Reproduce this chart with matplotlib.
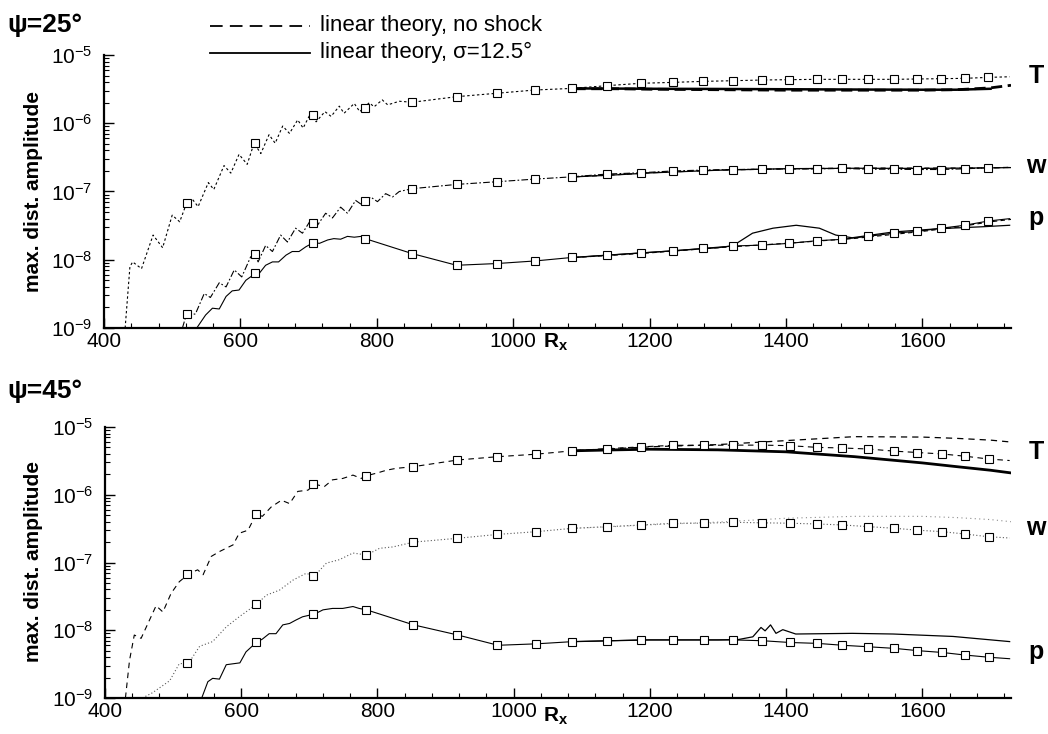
import matplotlib
matplotlib.use("Agg")
import matplotlib.pyplot as plt
from matplotlib.ticker import MultipleLocator, FixedLocator, LogLocator, NullFormatter
from matplotlib.lines import Line2D

plt.rcParams['font.family'] = ['Liberation Sans', 'DejaVu Sans']
plt.rcParams['mathtext.fontset'] = 'custom'
plt.rcParams['mathtext.rm'] = 'Liberation Sans'
plt.rcParams['mathtext.bf'] = 'Liberation Sans:bold'
plt.rcParams['mathtext.it'] = 'Liberation Sans:italic'

# ---------------- data ----------------
# DNS stations (square markers)
stations = [521, 621, 706, 783, 852, 917, 976, 1032, 1086, 1137, 1187, 1234,
            1279, 1322, 1365, 1405, 1445, 1482, 1520, 1558, 1592, 1628, 1662, 1697]

# linear theory abscissa
lin_x = [1090, 1150, 1200, 1300, 1400, 1500, 1600, 1650, 1700, 1730]

# ---- psi = 25 deg ----
t25_x = [431, 438, 442, 455, 472, 486, 500, 511, 521, 530, 538, 553, 561, 576, 586,
         598, 610, 620, 630, 642, 651, 662, 672, 684, 692, 703, 711, 724, 733, 745,
         752, 767, 775, 789, 796, 808, 816, 833, 852, 917, 976, 1032, 1086, 1137,
         1187, 1234, 1279, 1322, 1365, 1405, 1445, 1482, 1520, 1558, 1592, 1628,
         1662, 1697, 1728]
t25_y = [1.0e-9, 7.9e-9, 9.3e-9, 7.4e-9, 2.3e-8, 1.5e-8, 4.5e-8, 3.6e-8, 6.7e-8,
         7.6e-8, 6.0e-8, 1.35e-7, 1.07e-7, 2.4e-7, 1.86e-7, 3.5e-7, 2.5e-7, 5.1e-7,
         3.6e-7, 6.8e-7, 5.1e-7, 9.1e-7, 7.1e-7, 1.12e-6, 8.5e-7, 1.40e-6, 1.05e-6,
         1.48e-6, 1.26e-6, 1.78e-6, 1.40e-6, 1.95e-6, 1.48e-6, 2.0e-6, 1.74e-6,
         2.2e-6, 1.86e-6, 2.1e-6, 2.03e-6, 2.45e-6, 2.75e-6, 3.07e-6, 3.24e-6,
         3.55e-6, 3.85e-6, 3.97e-6, 4.11e-6, 4.2e-6, 4.3e-6, 4.35e-6, 4.4e-6, 4.4e-6,
         4.4e-6, 4.4e-6, 4.45e-6, 4.5e-6, 4.55e-6, 4.7e-6, 4.8e-6]
t25_sq = [6.7e-8, 5.1e-7, 1.32e-6, 1.65e-6, 2.03e-6, 2.45e-6, 2.75e-6, 3.07e-6,
          3.24e-6, 3.55e-6, 3.85e-6, 3.97e-6, 4.11e-6, 4.2e-6, 4.3e-6, 4.35e-6,
          4.4e-6, 4.4e-6, 4.4e-6, 4.4e-6, 4.45e-6, 4.5e-6, 4.55e-6, 4.7e-6]
t25_noshock = [3.2e-6, 3.2e-6, 3.15e-6, 3.1e-6, 3.05e-6, 3.05e-6, 3.05e-6, 3.1e-6, 3.3e-6, 3.6e-6]
t25_shock = [3.24e-6, 3.22e-6, 3.2e-6, 3.18e-6, 3.15e-6, 3.12e-6, 3.1e-6, 3.1e-6, 3.2e-6]

w25_x = [515, 521, 534, 547, 556, 569, 579, 591, 602, 615, 621, 626, 637, 647, 659,
         669, 681, 691, 703, 713, 725, 735, 747, 757, 769, 779, 791, 801, 813, 823,
         833, 852, 917, 976, 1032, 1086, 1137, 1187, 1234, 1279, 1322, 1365, 1405,
         1445, 1482, 1520, 1558, 1592, 1628, 1662, 1697, 1728]
w25_y = [1.0e-9, 1.6e-9, 1.6e-9, 3.2e-9, 2.8e-9, 4.6e-9, 4.0e-9, 7.1e-9, 5.6e-9,
         1.10e-8, 1.2e-8, 9.3e-9, 1.62e-8, 1.32e-8, 2.3e-8, 1.82e-8, 2.9e-8, 2.45e-8,
         3.8e-8, 3.2e-8, 4.8e-8, 4.1e-8, 5.9e-8, 4.8e-8, 7.4e-8, 6.3e-8, 8.3e-8,
         7.1e-8, 9.3e-8, 8.3e-8, 1.0e-7, 1.1e-7, 1.27e-7, 1.39e-7, 1.52e-7, 1.64e-7,
         1.8e-7, 1.88e-7, 2.0e-7, 2.06e-7, 2.1e-7, 2.12e-7, 2.14e-7, 2.14e-7, 2.18e-7,
         2.12e-7, 2.12e-7, 2.1e-7, 2.1e-7, 2.15e-7, 2.23e-7, 2.25e-7]
w25_sq = [1.6e-9, 1.23e-8, 3.47e-8, 7.2e-8, 1.1e-7, 1.27e-7, 1.39e-7, 1.52e-7,
          1.64e-7, 1.8e-7, 1.88e-7, 2.0e-7, 2.06e-7, 2.1e-7, 2.12e-7, 2.14e-7,
          2.14e-7, 2.18e-7, 2.12e-7, 2.12e-7, 2.1e-7, 2.1e-7, 2.15e-7, 2.23e-7]
w25_noshock = [1.64e-7, 1.76e-7, 1.88e-7, 2.06e-7, 2.15e-7, 2.2e-7, 2.2e-7, 2.2e-7, 2.22e-7, 2.26e-7]
w25_shock = [1.64e-7, 1.75e-7, 1.87e-7, 2.05e-7, 2.16e-7, 2.19e-7, 2.18e-7, 2.2e-7, 2.22e-7, 2.24e-7]

p25_x = [536, 549, 559, 569, 579, 588, 598, 608, 618, 627, 637, 647, 656, 667, 676,
         686, 696, 707, 716, 728, 737, 747, 757, 767, 777, 783, 852, 917, 976, 1032,
         1086, 1137, 1187, 1234, 1279, 1322, 1365, 1405, 1445, 1482, 1520, 1558,
         1592, 1628, 1662, 1697, 1728]
p25_y = [1.0e-9, 1.55e-9, 1.95e-9, 1.9e-9, 2.9e-9, 3.5e-9, 3.6e-9, 5.0e-9, 5.9e-9,
         6.2e-9, 8.3e-9, 9.3e-9, 9.3e-9, 1.17e-8, 1.32e-8, 1.32e-8, 1.55e-8, 1.78e-8,
         1.74e-8, 1.95e-8, 2.04e-8, 2.0e-8, 2.2e-8, 2.14e-8, 2.2e-8, 2.04e-8, 1.23e-8,
         8.3e-9, 8.8e-9, 9.6e-9, 1.08e-8, 1.17e-8, 1.26e-8, 1.35e-8, 1.47e-8, 1.59e-8,
         1.64e-8, 1.74e-8, 1.9e-8, 1.99e-8, 2.2e-8, 2.45e-8, 2.6e-8, 2.9e-8, 3.2e-8,
         3.7e-8, 4.0e-8]
p25_sq = [6.4e-9, 1.78e-8, 2.04e-8, 1.23e-8, 8.3e-9, 8.8e-9, 9.6e-9, 1.08e-8,
          1.17e-8, 1.26e-8, 1.35e-8, 1.47e-8, 1.59e-8, 1.64e-8, 1.74e-8, 1.9e-8,
          1.99e-8, 2.2e-8, 2.45e-8, 2.6e-8, 2.9e-8, 3.2e-8, 3.7e-8]
p25_noshock = [1.08e-8, 1.17e-8, 1.26e-8, 1.5e-8, 1.74e-8, 2.05e-8, 2.6e-8, 3.0e-8, 3.6e-8, 3.9e-8]
p25_shock_x = [1090, 1200, 1300, 1322, 1351, 1381, 1415, 1449, 1473, 1497, 1557, 1624, 1690, 1728]
p25_shock = [1.08e-8, 1.28e-8, 1.5e-8, 1.6e-8, 2.45e-8, 2.9e-8, 3.2e-8, 2.9e-8, 2.3e-8,
             2.1e-8, 2.55e-8, 2.85e-8, 3.05e-8, 3.2e-8]

# ---- psi = 45 deg ----
t45_x = [430, 436, 443, 453, 475, 485, 497, 509, 523, 536, 544, 556, 568, 588, 597,
         610, 622, 631, 644, 659, 671, 683, 698, 708, 722, 734, 749, 764, 776, 784,
         800, 813, 827, 853, 918, 977, 1033, 1087, 1139, 1188, 1235, 1280, 1323,
         1366, 1405, 1446, 1483, 1521, 1559, 1593, 1629, 1663, 1697, 1728]
t45_y = [1.0e-9, 3.6e-9, 8.5e-9, 7.6e-9, 2.3e-8, 1.86e-8, 3.5e-8, 5.2e-8, 6.8e-8,
         7.8e-8, 6.6e-8, 1.23e-7, 1.45e-7, 1.82e-7, 2.7e-7, 3.0e-7, 5.2e-7, 4.8e-7,
         6.6e-7, 8.3e-7, 7.4e-7, 1.12e-6, 1.17e-6, 1.43e-6, 1.32e-6, 1.66e-6, 1.74e-6,
         1.95e-6, 1.74e-6, 1.91e-6, 2.1e-6, 2.3e-6, 2.45e-6, 2.6e-6, 3.26e-6, 3.65e-6,
         3.97e-6, 4.46e-6, 4.8e-6, 5.1e-6, 5.37e-6, 5.37e-6, 5.4e-6, 5.4e-6, 5.3e-6,
         5.0e-6, 4.9e-6, 4.73e-6, 4.4e-6, 4.2e-6, 4.0e-6, 3.7e-6, 3.37e-6, 3.2e-6]
t45_sq = [6.7e-8, 5.2e-7, 1.43e-6, 1.91e-6, 2.6e-6, 3.26e-6, 3.65e-6, 3.97e-6,
          4.46e-6, 4.8e-6, 5.1e-6, 5.37e-6, 5.37e-6, 5.4e-6, 5.4e-6, 5.3e-6, 5.0e-6,
          4.9e-6, 4.73e-6, 4.4e-6, 4.2e-6, 4.0e-6, 3.7e-6, 3.37e-6]
t45_noshock = [4.5e-6, 4.8e-6, 5.1e-6, 5.5e-6, 6.3e-6, 7.2e-6, 7.1e-6, 6.8e-6, 6.4e-6, 6.0e-6]
t45_shock = [4.46e-6, 4.6e-6, 4.7e-6, 4.6e-6, 4.3e-6, 3.65e-6, 2.95e-6, 2.6e-6, 2.3e-6, 2.1e-6]

w45_x = [455, 470, 495, 509, 523, 539, 558, 578, 597, 622, 637, 656, 676, 695, 708,
         725, 744, 764, 784, 803, 823, 853, 918, 977, 1033, 1087, 1139, 1188, 1235,
         1280, 1323, 1366, 1405, 1446, 1483, 1521, 1559, 1593, 1629, 1663, 1697, 1728]
w45_y = [1.0e-9, 1.2e-9, 1.8e-9, 3.2e-9, 3.3e-9, 5.8e-9, 6.8e-9, 1.12e-8, 1.58e-8,
         2.4e-8, 3.3e-8, 3.9e-8, 5.5e-8, 6.9e-8, 6.4e-8, 9.8e-8, 1.10e-7, 1.38e-7,
         1.29e-7, 1.62e-7, 1.70e-7, 2.0e-7, 2.28e-7, 2.6e-7, 2.85e-7, 3.2e-7, 3.38e-7,
         3.58e-7, 3.8e-7, 3.8e-7, 3.92e-7, 3.85e-7, 3.8e-7, 3.7e-7, 3.58e-7, 3.38e-7,
         3.2e-7, 3.0e-7, 2.85e-7, 2.63e-7, 2.4e-7, 2.3e-7]
w45_sq = [3.3e-9, 2.4e-8, 6.4e-8, 1.29e-7, 2.0e-7, 2.28e-7, 2.6e-7, 2.85e-7, 3.2e-7,
          3.38e-7, 3.58e-7, 3.8e-7, 3.8e-7, 3.92e-7, 3.85e-7, 3.8e-7, 3.7e-7, 3.58e-7,
          3.38e-7, 3.2e-7, 3.0e-7, 2.85e-7, 2.63e-7, 2.4e-7]
w45_noshock = [3.2e-7, 3.4e-7, 3.6e-7, 3.95e-7, 4.5e-7, 4.8e-7, 4.8e-7, 4.6e-7, 4.3e-7, 4.0e-7]

p45_x = [542, 551, 558, 568, 578, 588, 598, 607, 622, 631, 641, 651, 661, 671, 680,
         690, 708, 720, 734, 749, 764, 773, 784, 853, 918, 977, 1033, 1087, 1139, 1188,
         1235, 1280, 1323, 1366, 1405, 1446, 1483, 1521, 1559, 1593, 1629, 1663, 1697, 1728]
p45_y = [1.0e-9, 1.74e-9, 1.95e-9, 1.9e-9, 3.1e-9, 3.2e-9, 3.3e-9, 4.8e-9, 6.6e-9,
         7.4e-9, 8.9e-9, 8.9e-9, 1.2e-8, 1.26e-8, 1.41e-8, 1.58e-8, 1.74e-8, 2.0e-8,
         2.1e-8, 2.1e-8, 2.24e-8, 2.1e-8, 2.0e-8, 1.2e-8, 8.5e-9, 6.0e-9, 6.3e-9,
         6.8e-9, 7.0e-9, 7.2e-9, 7.2e-9, 7.2e-9, 7.2e-9, 7.0e-9, 6.6e-9, 6.4e-9, 6.0e-9,
         5.7e-9, 5.4e-9, 5.0e-9, 4.7e-9, 4.3e-9, 4.0e-9, 3.8e-9]
p45_sq = [6.6e-9, 1.74e-8, 2.0e-8, 1.2e-8, 8.5e-9, 6.0e-9, 6.3e-9, 6.8e-9, 7.0e-9,
          7.2e-9, 7.2e-9, 7.2e-9, 7.2e-9, 7.0e-9, 6.6e-9, 6.4e-9, 6.0e-9, 5.7e-9,
          5.4e-9, 5.0e-9, 4.7e-9, 4.3e-9, 4.0e-9]
p45_shock_x = [1090, 1200, 1300, 1330, 1351, 1363, 1369, 1377, 1385, 1395, 1414, 1497, 1557, 1645, 1728]
p45_shock = [6.8e-9, 7.2e-9, 7.2e-9, 7.3e-9, 8.0e-9, 1.1e-8, 9.8e-9, 1.2e-8, 9.0e-9,
             1.02e-8, 8.8e-9, 9.0e-9, 8.8e-9, 8.1e-9, 6.8e-9]

# ---------------- figure ----------------
W, H = 1048, 734
fig = plt.figure(figsize=(W / 100, H / 100), dpi=100)


def fx(px):
    return px / W


def fy(py):
    return 1 - py / H


ax1 = fig.add_axes([fx(104), fy(328), fx(1011) - fx(104), fy(55) - fy(328)])
ax2 = fig.add_axes([fx(105), fy(698), fx(1011) - fx(105), fy(427) - fy(698)])

sq = dict(marker='s', ms=6.3, mfc='white', mec='black', mew=0.8, ls='none', zorder=5)
thin = 0.8


def style_axes(ax):
    ax.set_yscale('log')
    ax.set_xlim(400, 1730)
    ax.set_ylim(1e-9, 1e-5)
    for s in ('top', 'right'):
        ax.spines[s].set_visible(False)
    for s in ('left', 'bottom'):
        ax.spines[s].set_linewidth(1.6)
    ax.xaxis.set_major_locator(FixedLocator([400, 600, 800, 1000, 1200, 1400, 1600]))
    ax.xaxis.set_minor_locator(MultipleLocator(40))
    ax.yaxis.set_major_locator(FixedLocator([1e-9, 1e-8, 1e-7, 1e-6, 1e-5]))
    ax.yaxis.set_minor_locator(LogLocator(base=10, subs=range(2, 10), numticks=10))
    ax.yaxis.set_minor_formatter(NullFormatter())
    ax.tick_params(axis='both', which='major', direction='in', length=7, width=1.0,
                   top=False, right=False)
    ax.tick_params(axis='both', which='minor', direction='in', length=3.5, width=0.8,
                   top=False, right=False)
    ax.tick_params(axis='x', which='major', labelsize=15, pad=3)
    ax.tick_params(axis='y', which='major', labelsize=15, pad=8.5)


# ---- psi = 25 ----
ax1.plot(t25_x, t25_y, color='black', lw=thin, dashes=(2.2, 2.2))
ax1.plot(stations, t25_sq, **sq)
ax1.plot(lin_x, t25_noshock, color='black', lw=2.0, dashes=(4, 2))
ax1.plot(lin_x[:-1], t25_shock, color='black', lw=1.8)

ax1.plot(w25_x, w25_y, color='black', lw=thin, dashes=(6, 2, 1.5, 2))
ax1.plot(stations, w25_sq, **sq)
ax1.plot(lin_x, w25_noshock, color='black', lw=0.9, dashes=(4, 3))
ax1.plot(lin_x, w25_shock, color='black', lw=0.9)

ax1.plot(p25_x, p25_y, color='black', lw=thin)
ax1.plot(stations[1:], p25_sq, **sq)
ax1.plot(lin_x, p25_noshock, color='black', lw=0.8, dashes=(4, 3))
ax1.plot(p25_shock_x, p25_shock, color='black', lw=0.9)

# ---- psi = 45 ----
ax2.plot(t45_x, t45_y, color='black', lw=thin, dashes=(5, 4))
ax2.plot(stations, t45_sq, **sq)
ax2.plot(lin_x, t45_noshock, color='black', lw=0.9, dashes=(5, 4))
ax2.plot(lin_x, t45_shock, color='black', lw=2.0)

ax2.plot(w45_x, w45_y, color='0.35', lw=thin, dashes=(1, 2))
ax2.plot(stations, w45_sq, **sq)
ax2.plot(lin_x, w45_noshock, color='0.55', lw=0.8, dashes=(1, 3))

ax2.plot(p45_x, p45_y, color='black', lw=thin)
ax2.plot(stations[1:], p45_sq, **sq)
ax2.plot(p45_shock_x, p45_shock, color='black', lw=0.9)

style_axes(ax1)
style_axes(ax2)

# axis titles
for cy in (192, 562):
    fig.text(fx(34), fy(cy), 'max. dist. amplitude', fontsize=15, fontweight='bold',
             rotation=90, ha='center', va='center')
fig.text(fx(556), fy(342), r'$\mathbf{R_x}$', fontsize=15, ha='center', va='center')
fig.text(fx(556), fy(716), r'$\mathbf{R_x}$', fontsize=15, ha='center', va='center')

# panel titles
fig.text(fx(7), fy(25), 'ψ=25°', fontsize=19, fontweight='bold', ha='left', va='center')
fig.text(fx(7), fy(391), 'ψ=45°', fontsize=19, fontweight='bold', ha='left', va='center')

# variable tags at the right-hand end of each curve family
for txt, py in (('T', 76), ('w', 166), ('p', 218)):
    fig.text(fx(1036), fy(py), txt, fontsize=18, fontweight='bold', ha='center', va='center')
for txt, py in (('T', 452), ('w', 528), ('p', 652)):
    fig.text(fx(1036), fy(py), txt, fontsize=18, fontweight='bold', ha='center', va='center')

# legend
fig.add_artist(Line2D([fx(210), fx(310)], [fy(26), fy(26)], color='black', lw=1.3,
                      dashes=(7, 4)))
fig.add_artist(Line2D([fx(210), fx(310)], [fy(53), fy(53)], color='black', lw=1.3))
fig.text(fx(320), fy(26), 'linear theory, no shock', fontsize=16, ha='left', va='center')
fig.text(fx(320), fy(52), 'linear theory, σ=12.5°', fontsize=16, ha='left', va='center')

fig.savefig('out.png', dpi=100)
